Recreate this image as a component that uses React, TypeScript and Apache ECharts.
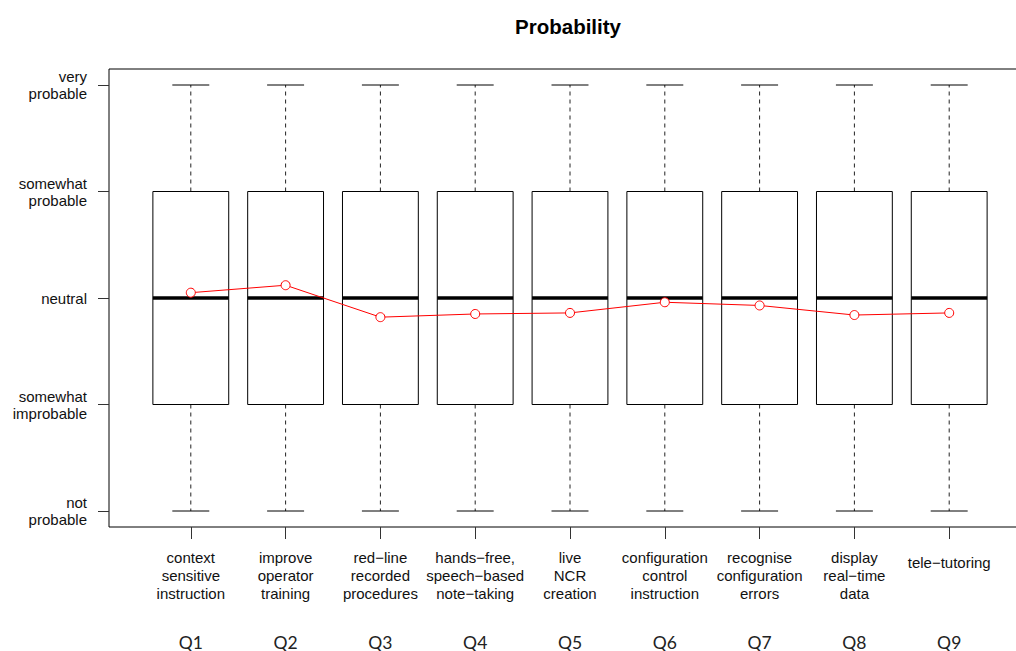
import React, { useEffect, useRef } from "react";
import * as echarts from "echarts";

// Survey items (x axis) and their short ids
const itemLabels = [
  "context\nsensitive\ninstruction",
  "improve\noperator\ntraining",
  "red\u2212line\nrecorded\nprocedures",
  "hands\u2212free,\nspeech\u2212based\nnote\u2212taking",
  "live\nNCR\ncreation",
  "configuration\ncontrol\ninstruction",
  "recognise\nconfiguration\nerrors",
  "display\nreal\u2212time\ndata",
  "tele\u2212tutoring",
];
const questionIds = ["Q1", "Q2", "Q3", "Q4", "Q5", "Q6", "Q7", "Q8", "Q9"];

// Five-number summaries per item (1 = not probable ... 5 = very probable)
const whiskerLow = [1, 1, 1, 1, 1, 1, 1, 1, 1];
const quartile1 = [2, 2, 2, 2, 2, 2, 2, 2, 2];
const medians = [3, 3, 3, 3, 3, 3, 3, 3, 3];
const quartile3 = [4, 4, 4, 4, 4, 4, 4, 4, 4];
const whiskerHigh = [5, 5, 5, 5, 5, 5, 5, 5, 5];

// Mean rating per item
const means = [3.05, 3.12, 2.82, 2.85, 2.86, 2.96, 2.93, 2.84, 2.86];

// Rating scale labels
const scaleLabels = [
  "not\nprobable",
  "somewhat\nimprobable",
  "neutral",
  "somewhat\nprobable",
  "very\nprobable",
];

const FONT = "'Liberation Sans', Arial, sans-serif";

export default function App() {
  const ref = useRef<HTMLDivElement>(null);

  useEffect(() => {
    if (!ref.current) return;
    const chart = echarts.init(ref.current, undefined, { renderer: "svg" });

    const boxData = itemLabels.map((_, i) => [
      i,
      whiskerLow[i],
      quartile1[i],
      medians[i],
      quartile3[i],
      whiskerHigh[i],
    ]);

    const option = {
      animation: false,
      backgroundColor: "#ffffff",
      title: {
        text: "Probability",
        left: 563,
        top: 9,
        textAlign: "center",
        textStyle: {
          fontFamily: FONT,
          fontWeight: "bold",
          fontSize: 20.5,
          color: "#000",
          lineHeight: 24,
        },
      },
      grid: [
        // plot frame (its right side runs past the canvas edge)
        {
          left: 109,
          top: 69,
          width: 940,
          bottom: 124,
          show: true,
          borderColor: "#000",
          borderWidth: 1,
          backgroundColor: "transparent",
          outerBoundsMode: "none",
          containLabel: false,
        },
        // data region
        {
          left: 143.4,
          width: 853.2,
          top: 85,
          bottom: 140,
          outerBoundsMode: "none",
          containLabel: false,
        },
      ],
      xAxis: [
        { gridIndex: 0, type: "value", min: 0, max: 1, show: false },
        {
          gridIndex: 1,
          type: "category",
          data: itemLabels,
          position: "bottom",
          offset: 16,
          boundaryGap: true,
          axisLine: { show: false },
          axisTick: {
            show: true,
            alignWithLabel: true,
            length: 12,
            lineStyle: { color: "#333", width: 1 },
          },
          axisLabel: {
            interval: 0,
            margin: 21,
            fontFamily: FONT,
            fontSize: 15,
            lineHeight: 18,
            color: "#111",
            formatter: (v: string) =>
              v.indexOf("\n") >= 0 ? v : "{one|" + v + "}",
            rich: {
              one: {
                fontFamily: FONT,
                fontSize: 15,
                lineHeight: 29,
                color: "#111",
              },
            },
          },
          splitLine: { show: false },
        },
        {
          gridIndex: 1,
          type: "category",
          data: questionIds,
          position: "bottom",
          offset: 16,
          axisLine: { show: false },
          axisTick: { show: false },
          axisLabel: {
            interval: 0,
            margin: 107,
            fontFamily: "Lato, 'Open Sans', sans-serif",
            fontSize: 17.5,
            lineHeight: 16,
            color: "#222",
          },
          splitLine: { show: false },
        },
      ],
      yAxis: [
        { gridIndex: 0, type: "value", min: 0, max: 1, show: false },
        {
          gridIndex: 1,
          type: "value",
          min: 1,
          max: 5,
          interval: 1,
          offset: 34.4,
          axisLine: { show: false },
          axisTick: {
            show: true,
            length: 11,
            lineStyle: { color: "#333", width: 1 },
          },
          axisLabel: {
            margin: 22,
            fontFamily: FONT,
            fontSize: 15,
            lineHeight: 17,
            color: "#111",
            align: "right",
            formatter: (v: number) => scaleLabels[Math.round(v) - 1] ?? "",
          },
          splitLine: { show: false },
        },
      ],
      series: [
        {
          type: "custom",
          xAxisIndex: 1,
          yAxisIndex: 1,
          data: boxData,
          z: 2,
          renderItem: (params: any, api: any) => {
            const x = api.value(0);
            const lo = api.coord([x, api.value(1)]);
            const q1 = api.coord([x, api.value(2)]);
            const md = api.coord([x, api.value(3)]);
            const q3 = api.coord([x, api.value(4)]);
            const hi = api.coord([x, api.value(5)]);
            const band = api.size([1, 0])[0];
            const bw = band * 0.8;
            const cw = band * 0.39;
            const cx = md[0];
            const dashed = {
              stroke: "#222",
              lineWidth: 1,
              lineDash: [4, 4],
              fill: null,
            };
            const solid = { stroke: "#000", lineWidth: 1, fill: null };
            return {
              type: "group",
              children: [
                {
                  type: "line",
                  shape: { x1: cx, y1: q3[1], x2: cx, y2: hi[1] },
                  style: dashed,
                },
                {
                  type: "line",
                  shape: { x1: cx, y1: q1[1], x2: cx, y2: lo[1] },
                  style: dashed,
                },
                {
                  type: "line",
                  shape: { x1: cx - cw / 2, y1: hi[1], x2: cx + cw / 2, y2: hi[1] },
                  style: solid,
                },
                {
                  type: "line",
                  shape: { x1: cx - cw / 2, y1: lo[1], x2: cx + cw / 2, y2: lo[1] },
                  style: solid,
                },
                {
                  type: "rect",
                  shape: {
                    x: cx - bw / 2,
                    y: q3[1],
                    width: bw,
                    height: q1[1] - q3[1],
                  },
                  style: { stroke: "#000", lineWidth: 1, fill: "#fff" },
                },
                {
                  type: "line",
                  shape: { x1: cx - bw / 2, y1: md[1], x2: cx + bw / 2, y2: md[1] },
                  style: { stroke: "#000", lineWidth: 3.6 },
                },
              ],
            };
          },
        },
        {
          type: "line",
          xAxisIndex: 1,
          yAxisIndex: 1,
          data: means,
          z: 5,
          symbol: "circle",
          symbolSize: 9,
          lineStyle: { color: "#ff0000", width: 1 },
          itemStyle: { color: "#ffffff", borderColor: "#ff0000", borderWidth: 1 },
        },
      ],
    };

    chart.setOption(option as any);
    return () => chart.dispose();
  }, []);

  return (
    <div
      ref={ref}
      style={{
        position: "fixed",
        left: 0,
        top: 0,
        width: 1016,
        height: 651,
        background: "#fff",
      }}
    />
  );
}
